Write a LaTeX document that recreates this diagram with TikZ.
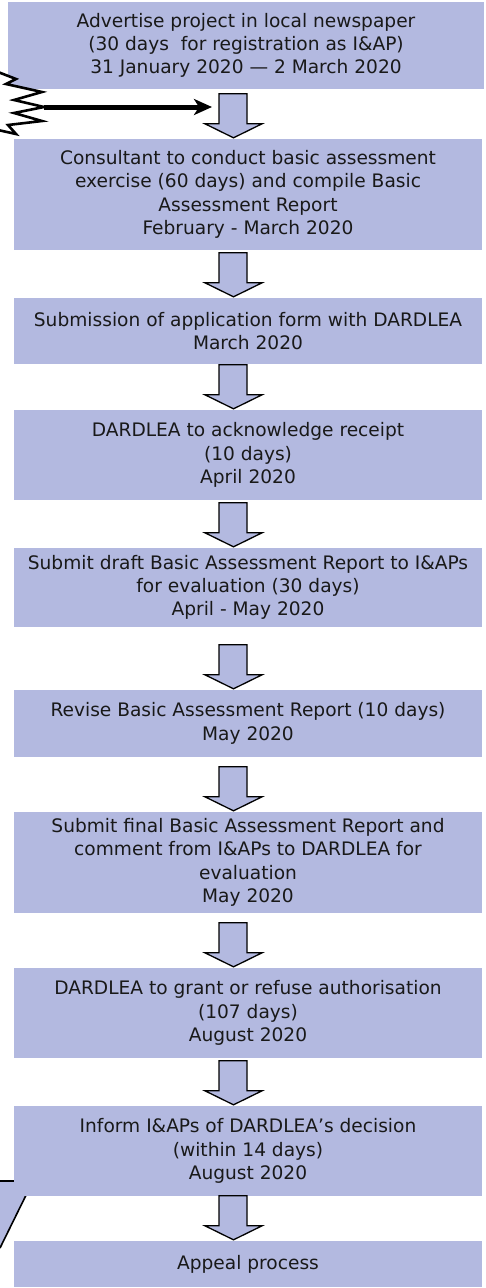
\documentclass[tikz,border=0pt]{standalone}
\usepackage{fontspec}
\setmainfont{DejaVu Sans}
\usetikzlibrary{arrows.meta,calc}
\definecolor{boxblue}{RGB}{179,185,224}
\definecolor{txt}{RGB}{25,25,25}
\tikzset{
  box/.style={fill=boxblue, draw=none, align=center, text=txt, inner sep=0pt,
    font=\fontsize{18.6}{23.3}\selectfont, minimum width=468pt},
  blockarrow/.style={draw=black, line width=1.3pt, fill=boxblue, line join=miter},
  jag/.style={draw=black, line width=2.6pt, fill=white, line join=miter},
  bigarrow/.style={line width=5pt, -{Stealth[length=18pt,width=16pt,inset=5pt]}},
}
\newcommand{\flowarrow}[1]{%
  \path let \p1=(#1.north) in
    [blockarrow] (219pt,\y1+45pt) -- (247pt,\y1+45pt) -- (247pt,\y1+15pt) -- (262pt,\y1+15pt)
    -- (233.5pt,\y1+1pt) -- (205pt,\y1+15pt) -- (219pt,\y1+15pt) -- cycle;}
\begin{document}
\begin{tikzpicture}[x=1pt,y=-1pt]
\useasboundingbox (0,0) rectangle (486,1288);
% partly hidden shape at bottom left
\fill[boxblue] (0,1181) -- (33,1181) -- (0,1248) -- cycle;
\draw[line width=1.6pt] (0,1181) -- (33,1181) -- (0,1248);
% boxes
\node[box, minimum width=476pt, minimum height=87pt] (b1) at (246,45.5)
  {Advertise project in local newspaper\\(30 days\ \ for registration as I\&AP)\\31 January 2020 — 2 March 2020};
\node[box, minimum height=111pt] (b2) at (248,194.5)
  {Consultant to conduct basic assessment\\exercise (60 days) and compile Basic\\Assessment Report\\February - March 2020};
\node[box, minimum height=66pt] (b3) at (248,331)
  {Submission of application form with DARDLEA\\March 2020};
\node[box, minimum height=90pt] (b4) at (248,455)
  {DARDLEA to acknowledge receipt\\(10 days)\\April 2020};
\node[box, minimum height=79pt] (b5) at (248,587.5)
  {Submit draft Basic Assessment Report to I\&APs\\for evaluation (30 days)\\April - May 2020};
\node[box, minimum height=67pt] (b6) at (248,723.5)
  {Revise Basic Assessment Report (10 days)\\May 2020};
\node[box, minimum height=101pt] (b7) at (248,862.5)
  {Submit final Basic Assessment Report and\\comment from I\&APs to DARDLEA for\\evaluation\\May 2020};
\node[box, minimum height=90pt] (b8) at (248,1013)
  {DARDLEA to grant or refuse authorisation\\(107 days)\\August 2020};
\node[box, minimum height=90pt] (b9) at (248,1151)
  {Inform I\&APs of DARDLEA’s decision\\(within 14 days)\\August 2020};
\node[box, minimum height=46pt] (b10) at (248,1264)
  {Appeal process};
% block arrows
\flowarrow{b2}
\flowarrow{b3}
\flowarrow{b4}
\flowarrow{b5}
\flowarrow{b6}
\flowarrow{b7}
\flowarrow{b8}
\flowarrow{b9}
\flowarrow{b10}
% jagged shape at top left
\draw[jag] (-2,72) -- (16,79) -- (6,84) -- (42,92) -- (14,100) -- (44,107) -- (14,113)
  -- (42,121) -- (8,125) -- (16,134) -- (-2,130);
\coordinate (zz) at (44,107);
\coordinate (tipc) at (212,107);
\draw[bigarrow] (zz) -- (tipc);
\end{tikzpicture}
\end{document}
